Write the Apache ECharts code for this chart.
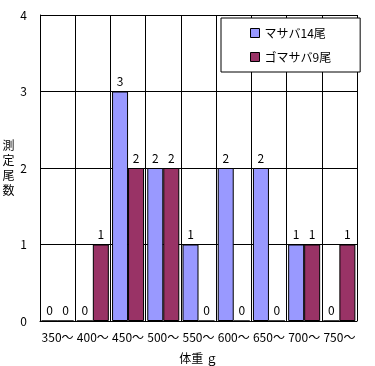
<!DOCTYPE html>
<html><head><meta charset="utf-8">
<script src="https://cdn.jsdelivr.net/npm/echarts@6/dist/echarts.min.js"></script>
<style>html,body{margin:0;padding:0;background:#fff}#c{width:375px;height:366px}</style>
</head><body><div id="c"></div>
<script>
const categories = ['350～','400～','450～','500～','550～','600～','650～','700～','750～'];
const masaba = [0,0,3,2,1,2,2,1,0];
const gomasaba = [0,1,2,2,0,0,0,1,1];
const seriesNames = ['マサバ14尾','ゴマサバ9尾'];
const yTicks = [0,1,2,3,4];

const FONT = '"Noto Sans CJK JP", sans-serif';
const chart = echarts.init(document.getElementById('c'), null, {renderer:'canvas'});
const lbl = {show:true, position:'top', distance:4, color:'#000', fontSize:12, fontFamily:FONT};
chart.setOption({
  animation:false,
  backgroundColor:'#fff',
  textStyle:{fontFamily:FONT},
  grid:{left:40, right:18, top:15, bottom:45, outerBoundsMode:'none', containLabel:false},
  legend:{
    orient:'vertical', left:221, top:18,
    padding:[9,29,9,29], itemGap:12,
    backgroundColor:'#fff', borderColor:'#000', borderWidth:1,
    itemWidth:9, itemHeight:9, icon:'rect',
    itemStyle:{borderColor:'#000', borderWidth:1},
    textStyle:{color:'#000', fontSize:12, fontFamily:FONT},
    data:seriesNames
  },
  xAxis:{
    type:'category', data:categories,
    axisLine:{lineStyle:{color:'#000', width:1}},
    axisTick:{show:false},
    axisLabel:{color:'#000', fontSize:12, margin:10, interval:0, fontFamily:FONT},
    splitLine:{show:true, lineStyle:{color:'#000', width:1}},
    name:'体重 ｇ', nameLocation:'middle', nameGap:31,
    nameTextStyle:{color:'#000', fontSize:12, fontFamily:FONT}
  },
  yAxis:{
    type:'value', min:yTicks[0], max:yTicks[yTicks.length-1], interval:1,
    axisLine:{show:true, lineStyle:{color:'#000', width:1}},
    axisTick:{show:false},
    axisLabel:{color:'#000', fontSize:12, margin:13, fontFamily:FONT, align:'right'},
    splitLine:{show:true, lineStyle:{color:'#000', width:1}},
    name:'測\n定\n尾\n数', nameLocation:'middle', nameRotate:0, nameGap:29,
    nameTextStyle:{color:'#000', fontSize:12, lineHeight:15, fontFamily:FONT, align:'center', verticalAlign:'middle'}
  },
  series:[
    {name:seriesNames[0], type:'bar', data:masaba, barWidth:16, barGap:'0%',
     itemStyle:{color:'#9999FF', borderColor:'#000', borderWidth:1}, label:lbl},
    {name:seriesNames[1], type:'bar', data:gomasaba, barWidth:16, barGap:'0%',
     itemStyle:{color:'#993366', borderColor:'#000', borderWidth:1}, label:lbl}
  ]
});
</script></body></html>
